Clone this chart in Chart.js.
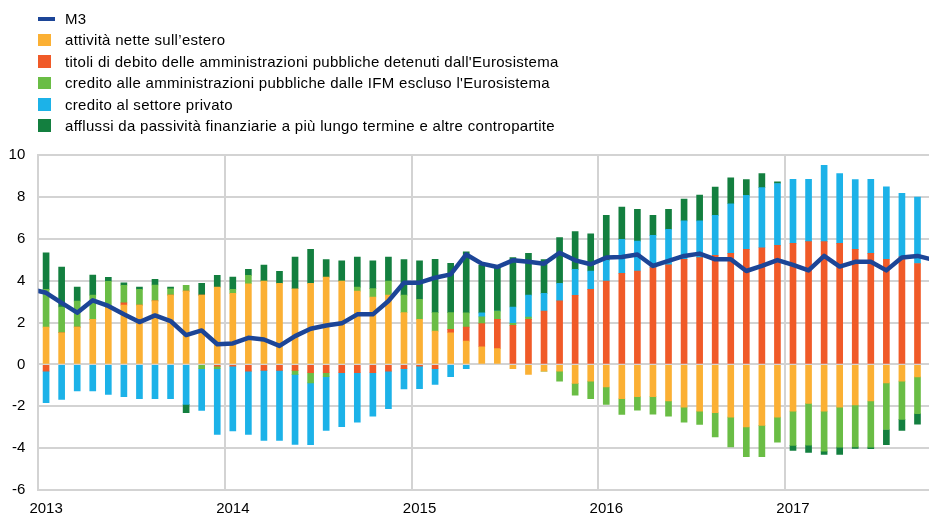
<!DOCTYPE html>
<html><head><meta charset="utf-8">
<script src="https://cdn.jsdelivr.net/npm/chart.js@4/dist/chart.umd.min.js"></script>
<style>
html,body{margin:0;padding:0;background:#fff;overflow:hidden;width:929px;height:516px}
#wrap{position:relative;width:929px;height:516px}
canvas{position:absolute;left:0;top:0}
#legend{position:absolute;left:0;top:8px;font-family:Arial,"Liberation Sans",sans-serif;font-size:15px;letter-spacing:0.3px;color:#000}
.row{position:relative;height:21.4px;line-height:21.4px;padding-left:65px;white-space:nowrap}
.mk{position:absolute;left:38px}
</style></head>
<body><div id="wrap"><canvas id="c" width="929" height="516"></canvas><div id="legend"></div></div>
<script>
// Months Jan 2013 .. Sep 2017 (bars); M3 line runs Dec 2012 .. Oct 2017
const yearLabels = ['2013','2014','2015','2016','2017'];
const seriesNames = [
  'M3',
  'attività nette sull\u2019estero',
  "titoli di debito delle amministrazioni pubbliche detenuti dall'Eurosistema",
  "credito alle amministrazioni pubbliche dalle IFM escluso l'Eurosistema",
  'credito al settore privato',
  'afflussi da passività finanziarie a più lungo termine e altre contropartite'
];
// M3 annual growth, Dec 2012 .. Oct 2017
const m3 = [3.6,
  3.42,2.94,2.47,3.06,2.79,2.39,2.02,2.34,2.07,1.40,1.62,0.96,
  1.00,1.27,1.19,0.88,1.35,1.70,1.86,1.96,2.39,2.39,3.03,3.90,
  3.90,4.14,4.30,5.25,4.81,4.65,4.97,4.90,4.81,5.33,4.97,4.78,
  5.10,5.13,5.25,4.70,4.94,5.18,5.29,5.02,5.02,4.46,4.70,4.98,
  4.75,4.49,5.18,4.67,4.90,4.90,4.49,5.10,5.18,5.00];
// attività nette sull'estero
const netExternal = [
  1.78,1.51,1.78,2.15,2.70,2.83,2.83,3.03,3.31,3.50,3.31,3.69,
  3.39,3.85,3.98,3.87,3.61,3.87,4.17,3.98,3.50,3.22,3.31,2.47,
  2.15,1.59,1.51,1.11,0.84,0.75,-0.21,-0.48,-0.32,-0.32,-0.91,-0.80,
  -1.08,-1.64,-1.54,-1.54,-1.75,-2.04,-2.23,-2.31,-2.52,-2.99,-2.91,-2.52,
  -2.23,-1.86,-2.23,-2.04,-1.94,-1.75,-0.88,-0.80,-0.60];
// titoli di debito delle AP detenuti dall'Eurosistema
const eurosystemGovSec = [
  -0.32,0,0,0,0,0.11,0,0,0,0,0,-0.08,
  -0.08,-0.32,-0.29,-0.29,-0.29,-0.40,-0.40,-0.40,-0.40,-0.40,-0.32,-0.21,
  -0.08,-0.21,0.16,0.67,1.11,1.40,1.86,2.15,2.55,3.03,3.30,3.58,
  3.98,4.35,4.46,4.62,4.75,5.02,5.10,5.21,5.30,5.49,5.57,5.68,
  5.78,5.86,5.86,5.78,5.49,5.30,5.02,5.14,4.82];
// credito alle AP dalle IFM escluso l'Eurosistema
const mfiGovCredit = [
  1.80,1.23,1.24,1.16,1.27,0.84,0.75,0.76,0.30,0.27,-0.21,-0.13,
  0.19,0.40,0,0,-0.19,-0.48,-0.19,0,0.19,0.40,0.67,0.84,
  0.96,0.88,0.80,0.68,0.32,0.40,0.10,0.11,0,-0.48,-0.56,-0.84,
  -0.83,-0.75,-0.65,-0.84,-0.72,-0.72,-0.64,-1.15,-1.42,-1.42,-1.50,-1.19,
  -1.64,-2.00,-1.91,-1.91,-2.00,-2.20,-2.23,-1.83,-1.75];
// credito al settore privato
const privateCredit = [
  -1.51,-1.67,-1.27,-1.27,-1.43,-1.54,-1.64,-1.64,-1.64,-1.91,-1.99,-3.14,
  -3.10,-3.03,-3.34,-3.34,-3.34,-2.95,-2.56,-2.58,-2.36,-2.07,-1.80,-0.96,
  -1.08,-0.75,-0.59,-0.21,0.19,0,0.78,1.05,0.84,0.84,1.24,0.88,
  0.99,1.62,1.43,1.54,1.70,1.83,1.75,1.91,2.37,2.58,2.87,2.96,
  3.06,2.98,3.65,3.33,3.34,3.54,3.46,3.03,3.17];
// afflussi da passività finanziarie a più lungo termine e altre contropartite
const longerTerm = [
  1.75,1.91,0.67,0.96,0.19,0.11,0.11,0.27,0.08,-0.40,0.56,0.56,
  0.59,0.29,0.76,0.57,1.51,1.62,0.84,0.96,1.43,1.32,1.15,1.70,
  1.83,2.55,2.36,2.91,2.28,2.10,2.36,1.99,1.62,2.18,1.80,1.78,
  2.15,1.54,1.51,0.96,0.96,1.04,1.23,1.35,1.24,0.76,0.67,0.08,
  -0.24,-0.35,-0.16,-0.35,-0.08,-0.08,-0.72,-0.53,-0.51];

const colors = ['#1c4597','#fbb034','#f05a28','#6abd45','#1cb2e8','#137f3f'];
const FONT = 'Arial, "Liberation Sans", sans-serif';

const toXY = arr => arr.map((v,i)=>({x:i, y:v}));
const barSeries = [netExternal, eurosystemGovSec, mfiGovCredit, privateCredit, longerTerm];

const datasets = [{
  type:'line', label:seriesNames[0], stack:'m3line',
  data: m3.map((v,i)=>({x:i-1, y:v})),
  borderColor:colors[0], backgroundColor:colors[0], borderWidth:4.5,
  pointRadius:0, tension:0, order:0, borderJoinStyle:'round'
}];
barSeries.forEach((arr,k)=>{
  datasets.push({type:'bar', label:seriesNames[k+1], stack:'s', data:toXY(arr),
    backgroundColor:colors[k+1], barThickness:6, borderWidth:0, order:1});
});

Chart.defaults.font.family = FONT;
new Chart(document.getElementById('c'), {
  data:{datasets},
  options:{
    responsive:false, animation:false, devicePixelRatio:1,
    layout:{padding:{left:8, top:155, right:0, bottom:0}},
    plugins:{legend:{display:false}, tooltip:{enabled:false}},
    scales:{
      x:{type:'linear', min:-0.5, max:56.74, bounds:'data', stacked:true, offset:false,
        afterBuildTicks: s => { s.ticks = yearLabels.map((_,i)=>({value:i*12-0.5})); },
        afterFit: s => { s.height = 26; s.paddingLeft = 0; s.paddingRight = 0; },
        grid:{color:'#d3d3d3', lineWidth:2, drawTicks:false, offset:false},
        border:{display:true, color:'#d3d3d3', width:2},
        ticks:{autoSkip:false, maxRotation:0, padding:11, labelOffset:7.8, color:'#000',
          font:{size:15, lineHeight:1},
          callback:(v)=> yearLabels[Math.round((v+0.5)/12)] }
      },
      y:{min:-6, max:10, stacked:true,
        afterFit: s => { s.width = 30.3; s.paddingTop = 0; s.paddingBottom = 0; },
        grid:{color:'#d3d3d3', lineWidth:2, drawTicks:false},
        border:{display:true, color:'#d3d3d3', width:2},
        ticks:{stepSize:2, padding:13, color:'#000', font:{size:15}}
      }
    }
  }
});

// HTML legend
const lg = document.getElementById('legend');
seriesNames.forEach((name,i)=>{
  const row = document.createElement('div'); row.className='row';
  const mk = document.createElement('span'); mk.className='mk';
  if(i===0){ mk.style.cssText='left:38px;top:8.7px;width:17px;height:4px;background:'+colors[0]; }
  else { mk.style.cssText='left:38px;top:4.5px;width:12.5px;height:12.5px;background:'+colors[i]; }
  row.appendChild(mk); row.appendChild(document.createTextNode(name));
  lg.appendChild(row);
});
</script></body></html>
